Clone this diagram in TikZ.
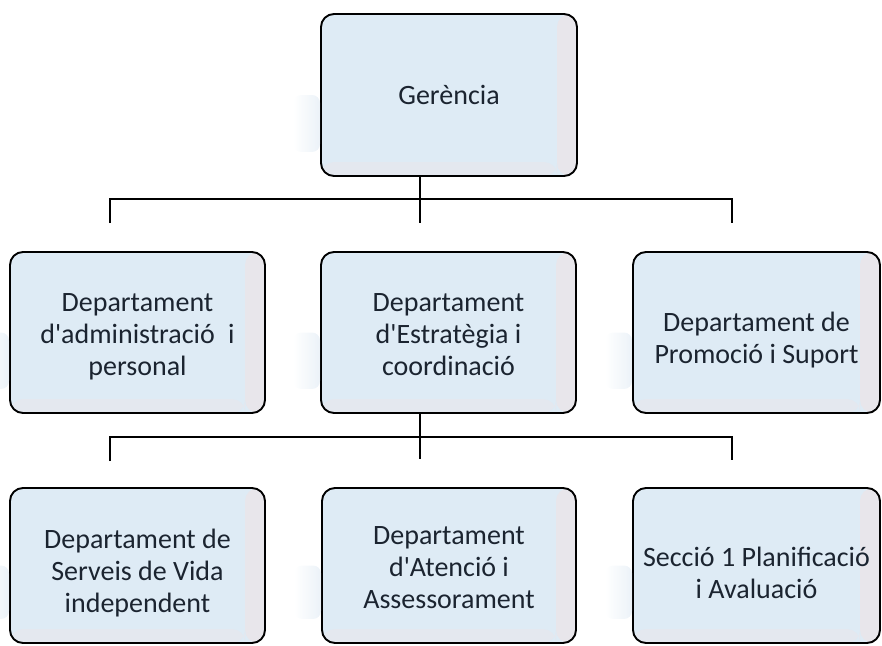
\documentclass[tikz,border=0pt]{standalone}
\usepackage{fontspec}
\newfontfamily\calfont{Carlito}
\definecolor{boxblue}{HTML}{DEEBF5}
\definecolor{stripgray}{HTML}{E8E6EB}
\definecolor{txt}{HTML}{1B2430}
\definecolor{glowblue}{HTML}{D3E2EF}
\begin{document}
\begin{tikzpicture}[x=1pt,y=-1pt,
  box/.style={draw=black, line width=1.9pt, rounded corners=13pt, fill=boxblue, inner sep=0pt,
    path picture={\fill[stripgray] ([xshift=-20pt]path picture bounding box.north east) rectangle (path picture bounding box.south east);
                  \fill[stripgray!60!boxblue] ([yshift=14pt]path picture bounding box.south west) rectangle ([xshift=-20pt]path picture bounding box.south east);}},
  lbl/.style={align=center, font=\calfont\fontsize{28}{32}\selectfont, text=txt, inner sep=0pt},
  conn/.style={draw=black, line width=1.8pt},
  glow/.style={left color=white, right color=glowblue, draw=none, opacity=0.45, rounded corners=8pt}]
\useasboundingbox (0,0) rectangle (882,645);

% boxes
\node[box, minimum width=256pt, minimum height=162pt] (g) at (449,95) {};
\node[box, minimum width=255pt, minimum height=161pt] (a) at (137.5,332.5) {};
\node[box, minimum width=255pt, minimum height=161pt] (b) at (448.5,332.5) {};
\node[box, minimum width=247pt, minimum height=161pt] (c) at (756.5,332.5) {};
\node[box, minimum width=255pt, minimum height=155pt] (d) at (137.5,565.5) {};
\node[box, minimum width=254pt, minimum height=155pt] (e) at (449,565.5) {};
\node[box, minimum width=247pt, minimum height=155pt] (f) at (756.5,565.5) {};

% faint glows left of the boxes
\foreach \n in {g,a,b,c,d,e,f}{
  \shade[glow] ([xshift=-27pt]\n.west) rectangle ([yshift=25pt]\n.south west);
}

% labels
\node[lbl] (gt) at (449,95) {Gerència};
\node[lbl] (at) at (137.5,337) {Departament\\d'administració\hspace{0.25em} i\\personal};
\node[lbl] (bt) at (448.5,335) {Departament\\d'Estratègia i\\coordinació};
\node[lbl] (ct) at (756.5,340) {Departament de\\Promoció i Suport};
\node[lbl] (dt) at (137.5,573) {Departament de\\Serveis de Vida\\independent};
\node[lbl] (et) at (449,568) {Departament\\d'Atenció i\\Assessorament};
\node[lbl] (ft) at (756.5,573) {Secció 1 Planificació\\i Avaluació};

% connector points
\coordinate (j1) at (420,199);
\coordinate (l1) at (110,199);
\coordinate (r1) at (732,199);
\coordinate (la) at (110,223);
\coordinate (ra) at (732,223);
\coordinate (mb) at (420,223);
\coordinate (j2) at (420,437);
\coordinate (l2) at (110,437);
\coordinate (r2) at (732,437);
\coordinate (ld) at (110,461);
\coordinate (rd) at (732,460);
\coordinate (me) at (420,459);

% connectors
\draw[conn] (g.south -| j1) -- (mb);
\draw[conn] (la) -- (l1) -- (r1) -- (ra);
\draw[conn] (b.south -| j2) -- (me);
\draw[conn] (ld) -- (l2) -- (r2) -- (rd);
\end{tikzpicture}
\end{document}
